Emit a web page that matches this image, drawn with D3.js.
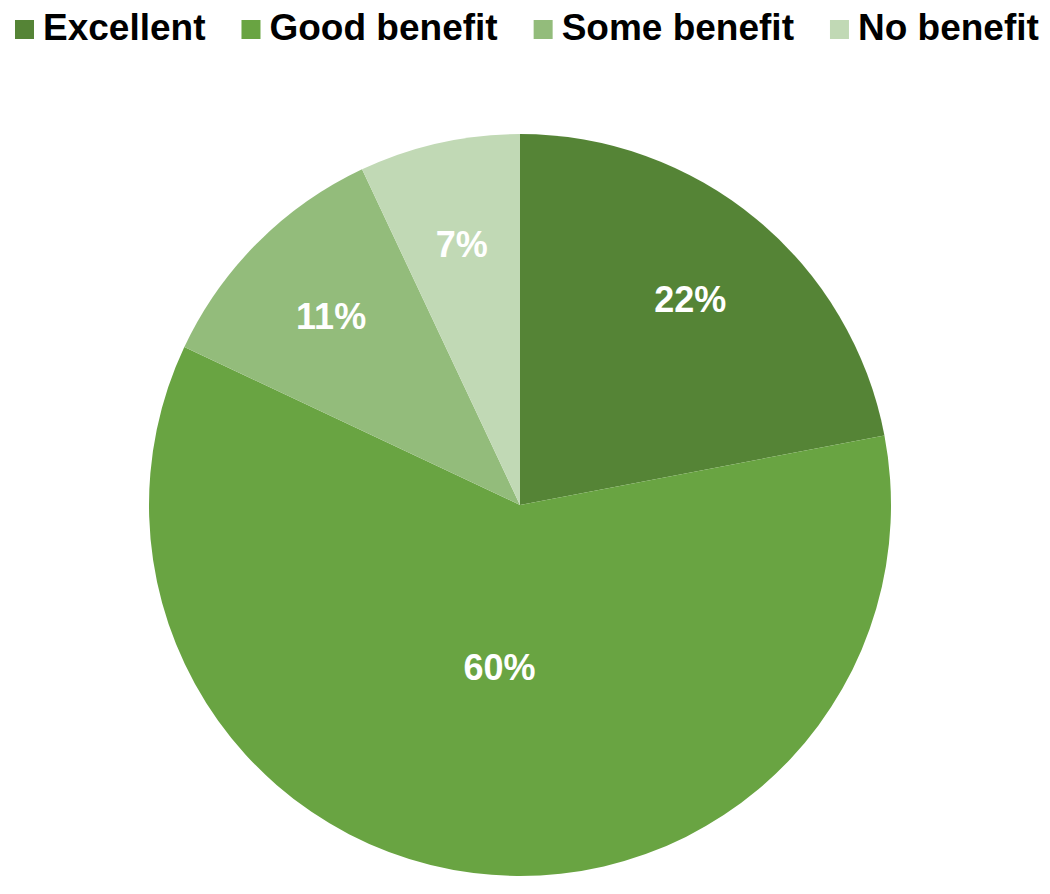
<!DOCTYPE html>
<html>
<head>
<meta charset="utf-8">
<script src="https://cdn.jsdelivr.net/npm/d3@7"></script>
<style>
  body { margin: 0; background: #fff; }
  text { font-family: "Liberation Sans", Arial, sans-serif; font-weight: bold; }
</style>
</head>
<body>
<svg id="chart"></svg>
<script>
const categories = ['Excellent', 'Good benefit', 'Some benefit', 'No benefit'];
const values = [22, 60, 11, 7];
const labels = ['22%', '60%', '11%', '7%'];
const colors = ['#558436', '#69a442', '#93bc7b', '#c1d9b5'];

const width = 1050;
const height = 894;
const cx = 520, cy = 505;
const radius = 371;

const svg = d3.select('#chart').attr('width', width).attr('height', height);

// legend, laid out left to right
const legend = svg.append('g').attr('transform', 'translate(15,0)');
let lx = 0;
categories.forEach((c, i) => {
  const g = legend.append('g').attr('transform', 'translate(' + lx + ',0)');
  g.append('rect')
    .attr('x', 0).attr('y', 20)
    .attr('width', 19).attr('height', 19)
    .attr('fill', colors[i]);
  const t = g.append('text')
    .attr('x', 28).attr('y', 40)
    .attr('font-size', 37)
    .attr('fill', '#000')
    .text(c);
  lx += 28 + t.node().getComputedTextLength() + 36;
});

const pie = d3.pie().sort(null).value(d => d);
const arcs = pie(values);

const arc = d3.arc().innerRadius(0).outerRadius(radius);

const body = svg.append('g').attr('transform', 'translate(' + cx + ',' + cy + ')');

body.selectAll('path')
  .data(arcs)
  .join('path')
  .attr('d', arc)
  .attr('fill', (d, i) => colors[i]);

// labels: small slices near the rim, big slice closer to the middle
const labelArc = d => {
  const r = (d.endAngle - d.startAngle) > Math.PI ? radius * 0.44 : radius * 0.72;
  return d3.arc().innerRadius(r).outerRadius(r).centroid(d);
};

body.selectAll('text.lbl')
  .data(arcs)
  .join('text')
  .attr('class', 'lbl')
  .attr('transform', d => 'translate(' + labelArc(d) + ')')
  .attr('text-anchor', 'middle')
  .attr('dy', '0.36em')
  .attr('font-size', 36)
  .attr('fill', '#fff')
  .text((d, i) => labels[i]);
</script>
</body>
</html>
